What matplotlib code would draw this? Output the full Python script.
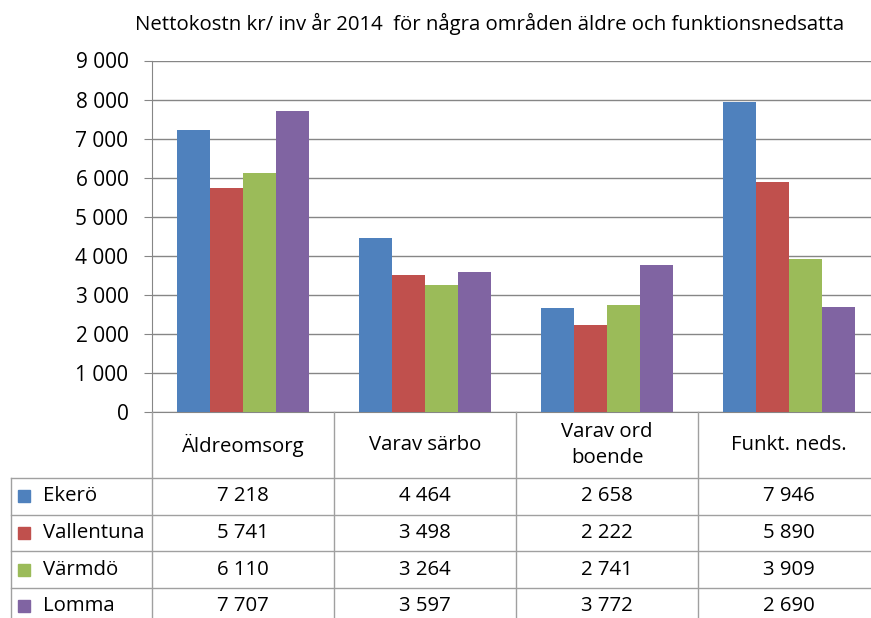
import numpy as np
import matplotlib
matplotlib.use("Agg")
import matplotlib.pyplot as plt

plt.rcParams['font.family'] = ['Open Sans', 'DejaVu Sans']

title = "Nettokostn kr/ inv år 2014  för några områden äldre och funktionsnedsatta"
categories = ["Äldreomsorg", "Varav särbo", "Varav ord\nboende", "Funkt. neds."]
municipalities = ["Ekerö", "Vallentuna", "Värmdö", "Lomma"]
ekero = [7218, 4464, 2658, 7946]
vallentuna = [5741, 3498, 2222, 5890]
varmdo = [6110, 3264, 2741, 3909]
lomma = [7707, 3597, 3772, 2690]
colors = ["#4F81BD", "#C0504D", "#9BBB59", "#8064A2"]
yticks = [0, 1000, 2000, 3000, 4000, 5000, 6000, 7000, 8000, 9000]

series = [ekero, vallentuna, varmdo, lomma]

W, H = 871, 618
fig = plt.figure(figsize=(W / 100, H / 100), dpi=100)

# plot area in pixels
left, top, bottom = 152, 60.5, 412
colw = 182
ax = fig.add_axes([left / W, (H - bottom) / H, 4 * colw / W, (bottom - top) / H])

x = np.arange(len(categories))
bw = 1 / (4 + 1.5)
for i, (name, vals) in enumerate(zip(municipalities, series)):
    ax.bar(x + (i - 1.5) * bw, vals, width=bw, color=colors[i], zorder=3)

ax.set_xlim(-0.5, 3.5)
ax.set_ylim(0, 9000)
ax.set_yticks(yticks)
ax.set_yticklabels([f"{v:,}".replace(",", " ") for v in yticks], fontsize=15)
ax.set_xticks([])
ax.yaxis.grid(True, color="#868686", linewidth=1)
for s in ["top", "right"]:
    ax.spines[s].set_visible(False)
for s in ["left", "bottom"]:
    ax.spines[s].set_color("#868686")
ax.tick_params(axis="y", length=6, color="#868686", pad=11, labelcolor="#000000")
ax.set_axisbelow(True)

fig.text(490 / W, 1 - 24 / H, title, ha="center", va="center", fontsize=14.7)

# data table below the plot, in pixel coordinates
tab = fig.add_axes([0, 0, 1, 1])
tab.set_xlim(0, W)
tab.set_ylim(H, 0)
tab.axis("off")

lc = "#A0A0A0"
header_bottom = 478
row_h = 36.7
fs = 14.7
col_edges = [left + k * colw for k in range(5)]
# vertical lines
tab.plot([left, left], [bottom, H], color=lc, lw=1)
for xe in col_edges[1:]:
    tab.plot([xe, xe], [bottom, H], color=lc, lw=1)
tab.plot([11, 11], [header_bottom, H], color=lc, lw=1)
# horizontal lines
for r in range(4):
    y = header_bottom + r * row_h
    tab.plot([11, W], [y, y], color=lc, lw=1)

for j, cat in enumerate(categories):
    tab.text(left + (j + 0.5) * colw, (bottom + header_bottom) / 2, cat,
             ha="center", va="center", fontsize=fs, linespacing=1.4)

for i, (name, vals) in enumerate(zip(municipalities, series)):
    yc = header_bottom + (i + 0.5) * row_h
    tab.add_patch(plt.Rectangle((18, yc - 6), 12, 12, color=colors[i]))
    tab.text(43, yc, name, ha="left", va="center", fontsize=fs)
    for j, v in enumerate(vals):
        tab.text(left + (j + 0.5) * colw, yc, f"{v:,}".replace(",", " "),
                 ha="center", va="center", fontsize=fs)

fig.savefig("out.png", dpi=100)
